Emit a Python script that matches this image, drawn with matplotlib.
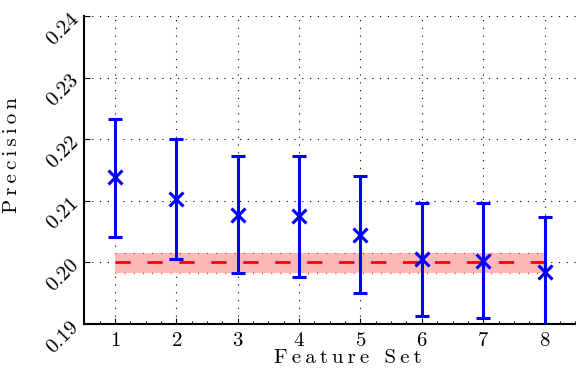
import matplotlib
matplotlib.use("Agg")
import matplotlib.pyplot as plt
from matplotlib.ticker import MultipleLocator

feature_set = [1, 2, 3, 4, 5, 6, 7, 8]
precision = [0.2138, 0.2103, 0.2077, 0.2075, 0.2045, 0.2005, 0.2003, 0.1984]
err_low = [0.0097, 0.0098, 0.0095, 0.0098, 0.0095, 0.0092, 0.0094, 0.0091]
err_high = [0.0095, 0.0098, 0.0095, 0.0097, 0.0095, 0.0092, 0.0093, 0.0089]
baseline = 0.2
band_low = 0.1982
band_high = 0.2016
y_ticks = [0.19, 0.20, 0.21, 0.22, 0.23, 0.24]
y_tick_labels = ["0.19", "0.20", "0.21", "0.22", "0.23", "0.24"]

plt.rcParams['font.family'] = ['cmr10', 'DejaVu Serif']
plt.rcParams['axes.formatter.use_mathtext'] = True

THIN = '\u2009'


def spaced(text):
    # letter-spaced label, a thin space between letters
    return (' ' + THIN * 2).join(THIN.join(w) for w in text.split(' '))


fig = plt.figure(figsize=(5.76, 3.74), dpi=100)
ax = fig.add_axes([0.1458, 0.1337, 0.854, 0.8235])

x0, x1 = feature_set[0], feature_set[-1]
ax.fill_between([x0, x1], band_low, band_high, color='#ffb8b8', lw=0, zorder=1)
ax.hlines([band_low, band_high], x0, x1, colors='red', linestyles=(0, (0.6, 6)), lw=1, zorder=2)
ax.plot([x0, x1], [baseline, baseline], color='red', lw=2, dashes=[5.5, 6], zorder=3)

ax.errorbar(feature_set, precision, yerr=[err_low, err_high], fmt='x', color='blue',
            ms=10, mew=2.2, elinewidth=2.2, capsize=5, capthick=2.2, zorder=4)

ax.set_xlim(0.495, 8.51)
ax.set_ylim(0.19, 0.24)
ax.set_xticks(feature_set)
ax.set_yticks(y_ticks)
ax.set_yticklabels(y_tick_labels, rotation=45, fontsize=15, ha='right', va='center',
                   rotation_mode='anchor')
ax.tick_params(axis='x', labelsize=15, pad=6)
ax.xaxis.set_minor_locator(MultipleLocator(0.25))
ax.tick_params(direction='in', which='both', length=4, width=0.8)
ax.tick_params(which='minor', length=2)
ax.tick_params(axis='y', pad=6)

ax.grid(True, color='black', linestyle=(0, (1, 6)), lw=0.8)
ax.set_axisbelow(True)
for side in ['top', 'right']:
    ax.spines[side].set_visible(False)
for side in ['left', 'bottom']:
    ax.spines[side].set_linewidth(1.5)

ax.set_xlabel(spaced('Feature Set'), fontsize=15)
ax.xaxis.set_label_coords(0.537, -0.083)
ax.set_ylabel(spaced('Precision'), fontsize=15)
ax.yaxis.set_label_coords(-0.128, 0.55)

fig.savefig('out.png', dpi=100)
